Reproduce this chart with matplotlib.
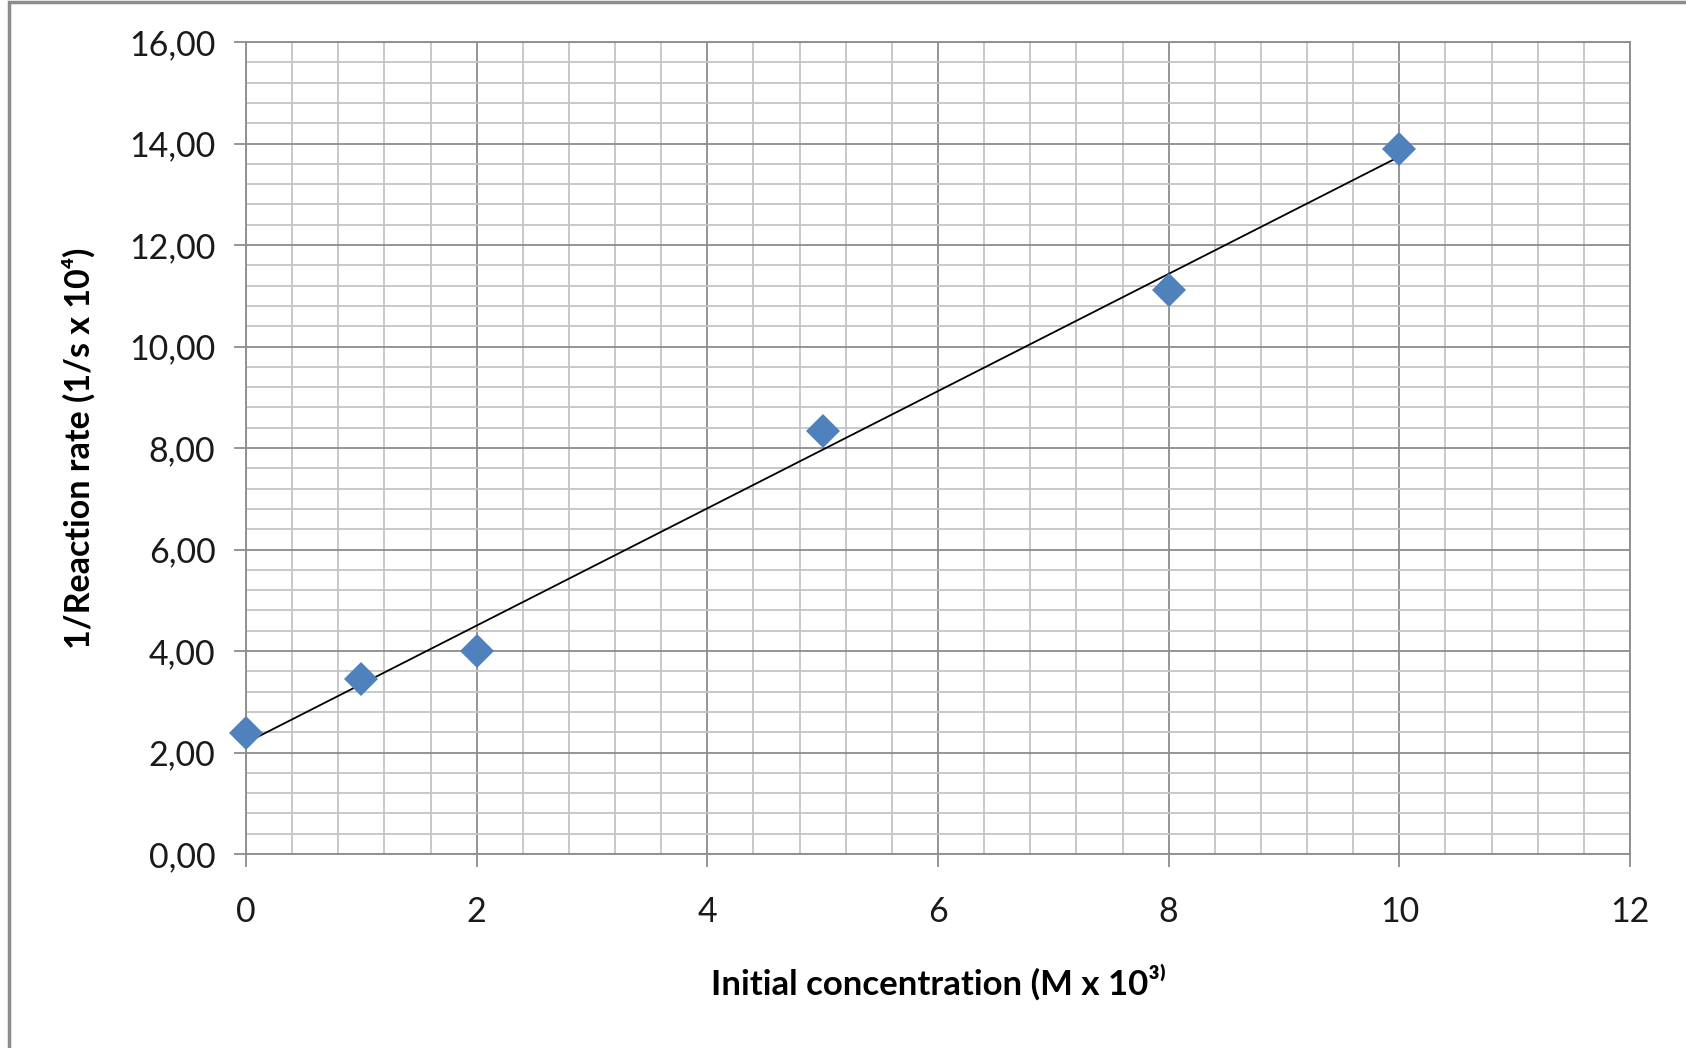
import numpy as np
import matplotlib
matplotlib.use("Agg")
import matplotlib.pyplot as plt
from matplotlib.ticker import MultipleLocator, FuncFormatter
from matplotlib.patches import Rectangle

plt.rcParams['font.family'] = ['Lato', 'DejaVu Sans']

# data
concentration = [0, 1, 2, 5, 8, 10]
inv_rate = [2.38, 3.45, 4.00, 8.33, 11.12, 13.90]

x_label = "Initial concentration (M x 10³⁾"
y_label = "1/Reaction rate (1/s x 10⁴)"

fig = plt.figure(figsize=(16.86, 10.48), dpi=100)
ax = fig.add_axes([0.1459, 0.1851, 0.9668 - 0.1459, 0.9599 - 0.1851])

# linear trendline (least squares, like the spreadsheet)
slope, intercept = np.polyfit(concentration, inv_rate, 1)
xs = np.array([min(concentration), max(concentration)])
ax.plot(xs, slope * xs + intercept, color='black', lw=1.3, zorder=3)

ax.plot(concentration, inv_rate, linestyle='none', marker='D', markersize=17,
        color='#4F81BD', markeredgewidth=0, zorder=4, clip_on=False)

ax.set_xlim(0, 12)
ax.set_ylim(0, 16)
ax.xaxis.set_major_locator(MultipleLocator(2))
ax.xaxis.set_minor_locator(MultipleLocator(0.4))
ax.yaxis.set_major_locator(MultipleLocator(2))
ax.yaxis.set_minor_locator(MultipleLocator(0.4))
ax.yaxis.set_major_formatter(FuncFormatter(lambda v, p: f"{v:.2f}".replace('.', ',')))

ax.grid(which='major', color='#8C8C8C', lw=1.3, zorder=0)
ax.grid(which='minor', color='#C4C4C4', lw=1.3, zorder=0)
ax.set_axisbelow(True)
for s in ax.spines.values():
    s.set_color('#8C8C8C')
    s.set_linewidth(1.3)

ax.tick_params(which='major', length=9, width=1.3, color='#8C8C8C',
               labelsize=24.5, labelcolor='#1a1a1a')
ax.tick_params(axis='x', which='major', pad=21)
ax.tick_params(axis='y', which='major', pad=13)
ax.tick_params(which='minor', length=0)

ax.set_xlabel(x_label, fontsize=25, fontweight='bold', labelpad=26)
ax.set_ylabel(y_label, fontsize=24.5, fontweight='bold', labelpad=24)

# outer chart frame
fig.patches.append(Rectangle((9 / 1686, -0.1), 1.2, 1 - 2 / 1048 + 0.1,
                             transform=fig.transFigure, fill=False,
                             edgecolor='#8C8C8C', lw=2.5))

fig.savefig("out.png", dpi=100)
